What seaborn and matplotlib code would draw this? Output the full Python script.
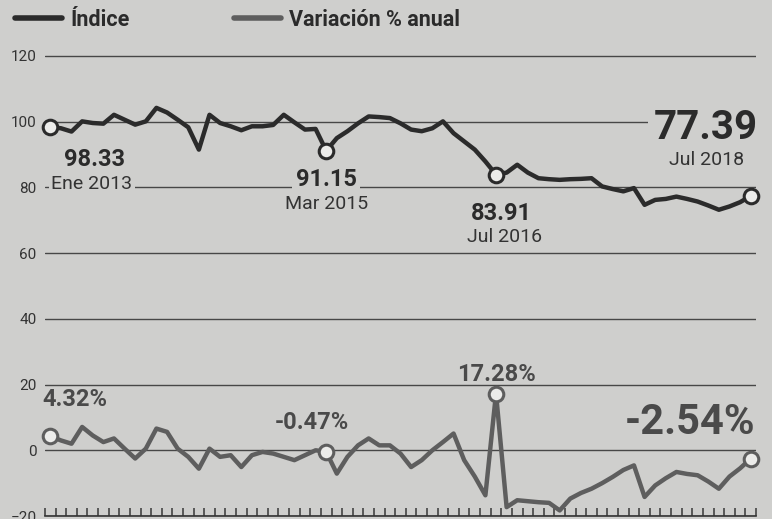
import numpy as np
import pandas as pd
import seaborn as sns
import matplotlib.pyplot as plt

# monthly series, Ene 2013 .. Jul 2018
meses = pd.date_range('2013-01-01', '2018-07-01', freq='MS')

indice = [98.33, 98.0, 97.0, 100.1, 99.6, 99.4, 102.1, 100.6, 99.1, 100.1,
          104.2, 102.8, 100.6, 98.3, 91.5, 102.1, 99.6, 98.6, 97.4, 98.6,
          98.6, 99.0, 102.1, 99.8, 97.6, 97.8, 91.15, 95.0, 97.1, 99.5,
          101.6, 101.4, 101.1, 99.5, 97.6, 97.1, 98.0, 100.1, 96.5, 94.0,
          91.5, 87.9, 83.91, 84.5, 86.9, 84.5, 82.8, 82.5, 82.3, 82.5,
          82.6, 82.8, 80.3, 79.5, 78.8, 79.8, 74.7, 76.2, 76.5, 77.2,
          76.5, 75.7, 74.5, 73.2, 74.2, 75.5, 77.39]

variacion = [4.32, 3.0, 2.0, 7.1, 4.5, 2.5, 3.6, 0.5, -2.5, 0.5,
             6.6, 5.6, 0.5, -2.0, -5.6, 0.5, -2.0, -1.5, -5.1, -1.5,
             -0.5, -1.0, -2.0, -3.0, -1.5, 0.0, -0.47, -7.1, -2.0, 1.5,
             3.6, 1.5, 1.5, -1.0, -5.1, -3.0, 0.0, 2.5, 5.1, -3.0,
             -8.0, -13.7, 17.28, -17.3, -15.2, -15.5, -15.8, -16.0, -18.3, -14.7,
             -13.0, -11.7, -10.0, -8.1, -6.0, -4.6, -14.2, -10.7, -8.5, -6.6,
             -7.2, -7.6, -9.5, -11.7, -8.0, -5.5, -2.54]

destacados = [0, 26, 42, 66]
etiquetas_indice = ['98.33', '91.15', '83.91', '77.39']
fechas_indice = ['Ene 2013', 'Mar 2015', 'Jul 2016', 'Jul 2018']
etiquetas_var = ['4.32%', '-0.47%', '17.28%', '-2.54%']
yticks = [-20, 0, 20, 40, 60, 80, 100, 120]

df = pd.DataFrame({'mes': np.arange(len(meses)),
                   'Índice': indice,
                   'Variación % anual': variacion})

fondo = '#cfcfcd'
oscuro = '#2b2b2b'
gris = '#5e5e5e'

sns.set_style('white')
plt.rcParams['font.family'] = ['Roboto', 'DejaVu Sans']

fig = plt.figure(figsize=(7.72, 5.19), dpi=100, facecolor=fondo)
ax = fig.add_axes([45 / 772, 3 / 519, 711 / 772, 0.8927])
ax.set_facecolor(fondo)

sns.lineplot(data=df, x='mes', y='Índice', color=oscuro, lw=3.2,
             label='Índice', ax=ax, zorder=3)
sns.lineplot(data=df, x='mes', y='Variación % anual', color=gris, lw=3.2,
             label='Variación % anual', ax=ax, zorder=3)

sel = df.iloc[destacados]
for col, c in [('Índice', oscuro), ('Variación % anual', gris)]:
    sns.scatterplot(data=sel, x='mes', y=col, s=110, color='#ececea',
                    edgecolor=c, linewidth=2.2, ax=ax, zorder=5,
                    legend=False, clip_on=False)

ax.set_xlim(-0.5, 66.5)
ax.set_ylim(-20, 121)
ax.set_yticks(yticks)
ax.set_xticks(np.arange(-0.5, 67, 1))
ax.set_xticklabels([])
ax.set_xlabel('')
ax.set_ylabel('')
ax.yaxis.grid(True, color='#474747', lw=1.0)
ax.set_axisbelow(True)
ax.tick_params(axis='y', left=False, length=0, pad=6, labelsize=11,
               labelcolor='#333333')
ax.tick_params(axis='x', bottom=True, direction='in', length=6, width=1.2,
               color='#444444')
for s in ['top', 'right', 'left']:
    ax.spines[s].set_visible(False)
ax.spines['bottom'].set_color('#333333')
ax.spines['bottom'].set_linewidth(1.2)

caja = dict(boxstyle='square,pad=0.15', fc=fondo, ec='none')

# index annotations: (value offset, date offset) in points
off_ind = [((32, -23), (30, -41)), ((0, -21), (0, -38)),
           ((4, -28), (6, -45)), ((-32, 49), (-32, 26))]
tam_ind = [17, 17, 17, 29]
for k, i in enumerate(destacados):
    (v_off, f_off) = off_ind[k]
    ax.annotate(etiquetas_indice[k], xy=(i, indice[i]), xytext=v_off,
                textcoords='offset points', ha='center', va='center',
                fontsize=tam_ind[k], fontweight='bold', color=oscuro,
                bbox=caja, zorder=4)
    ax.annotate(fechas_indice[k], xy=(i, indice[i]), xytext=f_off,
                textcoords='offset points', ha='center', va='center',
                fontsize=14, color='#333333', bbox=caja, zorder=4)

off_var = [(18, 26), (-10, 21), (0, 14), (-44, 26)]
tam_var = [17, 17, 17, 30]
for k, i in enumerate(destacados):
    ax.annotate(etiquetas_var[k], xy=(i, variacion[i]), xytext=off_var[k],
                textcoords='offset points', ha='center', va='center',
                fontsize=tam_var[k], fontweight='bold', color='#4a4a4a',
                zorder=4)

leg = ax.legend(loc='upper left', bbox_to_anchor=(15 / 772, 1 - 9 / 519),
                bbox_transform=fig.transFigure, ncol=2, frameon=False,
                prop={'weight': 'bold', 'size': 15.5}, handlelength=2.2,
                handletextpad=0.36, columnspacing=4.85, borderaxespad=0,
                borderpad=0)
for ln in leg.get_lines():
    ln.set_linewidth(4)
for t in leg.get_texts():
    t.set_color(oscuro)

fig.savefig('out.png', dpi=100, facecolor=fondo)
